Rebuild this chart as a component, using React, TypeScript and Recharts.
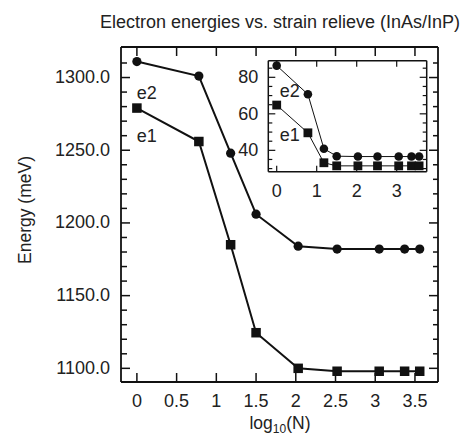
import React from 'react';
import { ComposedChart, Line, XAxis, YAxis, LabelList } from 'recharts';

const xValues = [0, 0.78, 1.18, 1.5, 2.03, 2.52, 3.05, 3.37, 3.56];
const e2Main = [1311, 1301, 1248, 1206, 1184, 1182, 1182, 1182, 1182];
const e1Main = [1279, 1256, 1185, 1124.5, 1100, 1098, 1098, 1098, 1098];
const e2Inset = [86.4, 70.7, 40.9, 36.8, 36.6, 36.6, 36.6, 36.6, 36.6];
const e1Inset = [64.8, 49.6, 33.2, 31.5, 31.5, 31.5, 31.5, 31.5, 31.5];
const seriesNames = ['e1', 'e2'];

const mainXTicks = [0, 0.5, 1, 1.5, 2, 2.5, 3, 3.5];
const mainYTicks = [1100, 1110, 1120, 1130, 1140, 1150, 1160, 1170, 1180, 1190, 1200, 1210, 1220, 1230, 1240, 1250, 1260, 1270, 1280, 1290, 1300, 1310];
const mainYLabels = [1100, 1150, 1200, 1250, 1300];
const insetXTicks = [0, 1, 2, 3];
const insetYTicks = [30, 35, 40, 45, 50, 55, 60, 65, 70, 75, 80, 85];
const insetYLabels = [40, 60, 80];

const titleText = 'Electron energies vs. strain relieve (InAs/InP)';
const yLabelText = 'Energy (meV)';

const mainData = xValues.map((x, i) => ({ x, e1: e1Main[i], e2: e2Main[i] }));
const insetData = xValues.map((x, i) => ({ x, e1: e1Inset[i], e2: e2Inset[i] }));

const FONT = '"Liberation Sans", Arial, Helvetica, sans-serif';
const INK = '#111';
const TXT = '#222';

type Side = 'left' | 'right' | 'top' | 'bottom';
interface TickOpts {
  side: Side;
  majors: number[];
  majorLen: number;
  minorLen: number;
  labels: boolean;
  fs: number;
  gap: number;
  base: number;
  fmt: (v: number) => string;
  sw: number;
}

const makeTick = (o: TickOpts) => (props: any) => {
  const { x, y, payload } = props;
  const v = payload.value;
  const isMajor = o.majors.some((m) => Math.abs(m - v) < 1e-6);
  const len = isMajor ? o.majorLen : o.minorLen;
  let x2 = x;
  let y2 = y;
  if (o.side === 'left') x2 = x + len;
  if (o.side === 'right') x2 = x - len;
  if (o.side === 'top') y2 = y + len;
  if (o.side === 'bottom') y2 = y - len;
  let label = null;
  if (o.labels && isMajor) {
    if (o.side === 'left') {
      label = (
        <text x={x - o.gap} y={y + o.base} textAnchor="end" fontSize={o.fs} fontFamily={FONT} fill={TXT}>
          {o.fmt(v)}
        </text>
      );
    } else if (o.side === 'bottom') {
      label = (
        <text x={x} y={y + o.base} textAnchor="middle" fontSize={o.fs} fontFamily={FONT} fill={TXT}>
          {o.fmt(v)}
        </text>
      );
    }
  }
  return (
    <g>
      <line x1={x} y1={y} x2={x2} y2={y2} stroke={INK} strokeWidth={o.sw} />
      {label}
    </g>
  );
};

const Circle = (r: number) => (p: any) => (
  <circle key={`c${p.index}`} cx={p.cx} cy={p.cy} r={r} fill={INK} stroke="none" />
);
const Square = (s: number) => (p: any) => (
  <rect key={`s${p.index}`} x={p.cx - s / 2} y={p.cy - s / 2} width={s} height={s} fill={INK} stroke="none" />
);

const firstLabel = (text: string, dx: number, dy: number, fs: number) => (p: any) => {
  if (p.index !== 0) return null;
  return (
    <text x={p.x + dx} y={p.y + dy} textAnchor="middle" fontSize={fs} fontFamily={FONT} fill={TXT}>
      {text}
    </text>
  );
};

const fmtMain = (v: number) => v.toFixed(1);
const fmtMainX = (v: number) => String(v);
const fmtInt = (v: number) => String(v);

export default function App() {
  const mainAxisLine = { stroke: INK, strokeWidth: 1.8 };
  const insetAxisLine = { stroke: INK, strokeWidth: 1.5 };
  const mainXDomain: [number, number] = [-0.2, 3.79];
  const mainYDomain: [number, number] = [1090.6, 1321];
  const insetXDomain: [number, number] = [-0.21, 3.75];
  const insetYDomain: [number, number] = [28.3, 89.1];

  return (
    <div style={{ position: 'absolute', left: 0, top: 0, width: 467, height: 438, background: '#fff' }}>
      <div style={{ position: 'absolute', left: 0, top: 0 }}>
        <ComposedChart width={467} height={438} data={mainData} margin={{ top: 0, right: 0, bottom: 0, left: 0 }}>
          <XAxis
            xAxisId="b"
            dataKey="x"
            type="number"
            orientation="bottom"
            domain={mainXDomain}
            allowDataOverflow
            ticks={mainXTicks}
            interval={0}
            height={56}
            tickSize={0}
            tickMargin={0}
            tickLine={false}
            axisLine={mainAxisLine}
            tick={makeTick({ side: 'bottom', majors: mainXTicks, majorLen: 9, minorLen: 5, labels: true, fs: 18, gap: 0, base: 25, fmt: fmtMainX, sw: 1.5 })}
          />
          <XAxis
            xAxisId="t"
            dataKey="x"
            type="number"
            orientation="top"
            domain={mainXDomain}
            allowDataOverflow
            ticks={mainXTicks}
            interval={0}
            height={47}
            tickSize={0}
            tickMargin={0}
            tickLine={false}
            axisLine={mainAxisLine}
            tick={makeTick({ side: 'top', majors: mainXTicks, majorLen: 9, minorLen: 5, labels: false, fs: 18, gap: 0, base: 0, fmt: fmtMainX, sw: 1.5 })}
          />
          <YAxis
            yAxisId="l"
            type="number"
            orientation="left"
            domain={mainYDomain}
            allowDataOverflow
            ticks={mainYTicks}
            interval={0}
            width={121}
            tickSize={0}
            tickMargin={0}
            tickLine={false}
            axisLine={mainAxisLine}
            tick={makeTick({ side: 'left', majors: mainYLabels, majorLen: 9, minorLen: 6, labels: true, fs: 18, gap: 11, base: 5.5, fmt: fmtMain, sw: 1.5 })}
          />
          <YAxis
            yAxisId="r"
            type="number"
            orientation="right"
            domain={mainYDomain}
            allowDataOverflow
            ticks={mainYTicks}
            interval={0}
            width={29}
            tickSize={0}
            tickMargin={0}
            tickLine={false}
            axisLine={mainAxisLine}
            tick={makeTick({ side: 'right', majors: mainYLabels, majorLen: 9, minorLen: 5, labels: false, fs: 18, gap: 0, base: 0, fmt: fmtMain, sw: 1.5 })}
          />
          <Line
            xAxisId="b"
            yAxisId="l"
            dataKey="e2"
            name={seriesNames[1]}
            type="linear"
            stroke={INK}
            strokeWidth={2}
            dot={Circle(4.6)}
            activeDot={false}
            isAnimationActive={false}
          >
            <LabelList dataKey="e2" content={firstLabel(seriesNames[1], 10, 37, 18)} />
          </Line>
          <Line
            xAxisId="b"
            yAxisId="l"
            dataKey="e1"
            name={seriesNames[0]}
            type="linear"
            stroke={INK}
            strokeWidth={2}
            dot={Square(9.5)}
            activeDot={false}
            isAnimationActive={false}
          >
            <LabelList dataKey="e1" content={firstLabel(seriesNames[0], 10, 34, 18)} />
          </Line>
        </ComposedChart>
      </div>

      <div style={{ position: 'absolute', left: 225, top: 55 }}>
        <ComposedChart width={215} height={150} data={insetData} margin={{ top: 0, right: 0, bottom: 0, left: 0 }}>
          <XAxis
            xAxisId="b"
            dataKey="x"
            type="number"
            orientation="bottom"
            domain={insetXDomain}
            allowDataOverflow
            ticks={insetXTicks}
            interval={0}
            height={33.3}
            tickSize={0}
            tickMargin={0}
            tickLine={false}
            axisLine={insetAxisLine}
            tick={makeTick({ side: 'bottom', majors: insetXTicks, majorLen: 6, minorLen: 4, labels: true, fs: 18, gap: 0, base: 25, fmt: fmtInt, sw: 1.2 })}
          />
          <XAxis
            xAxisId="t"
            dataKey="x"
            type="number"
            orientation="top"
            domain={insetXDomain}
            allowDataOverflow
            ticks={insetXTicks}
            interval={0}
            height={5.7}
            tickSize={0}
            tickMargin={0}
            tickLine={false}
            axisLine={insetAxisLine}
            tick={makeTick({ side: 'top', majors: insetXTicks, majorLen: 6, minorLen: 4, labels: false, fs: 18, gap: 0, base: 0, fmt: fmtInt, sw: 1.2 })}
          />
          <YAxis
            yAxisId="l"
            type="number"
            orientation="left"
            domain={insetYDomain}
            allowDataOverflow
            ticks={insetYTicks}
            interval={0}
            width={43.3}
            tickSize={0}
            tickMargin={0}
            tickLine={false}
            axisLine={insetAxisLine}
            tick={makeTick({ side: 'left', majors: insetYLabels, majorLen: 7, minorLen: 4, labels: true, fs: 18, gap: 10, base: 6, fmt: fmtInt, sw: 1.2 })}
          />
          <YAxis
            yAxisId="r"
            type="number"
            orientation="right"
            domain={insetYDomain}
            allowDataOverflow
            ticks={insetYTicks}
            interval={0}
            width={13.3}
            tickSize={0}
            tickMargin={0}
            tickLine={false}
            axisLine={insetAxisLine}
            tick={makeTick({ side: 'right', majors: insetYLabels, majorLen: 7, minorLen: 4, labels: false, fs: 18, gap: 0, base: 0, fmt: fmtInt, sw: 1.2 })}
          />
          <Line
            xAxisId="b"
            yAxisId="l"
            dataKey="e2"
            name={seriesNames[1]}
            type="linear"
            stroke={INK}
            strokeWidth={1}
            dot={Circle(4.3)}
            activeDot={false}
            isAnimationActive={false}
          >
            <LabelList dataKey="e2" content={firstLabel(seriesNames[1], 13, 31, 18)} />
          </Line>
          <Line
            xAxisId="b"
            yAxisId="l"
            dataKey="e1"
            name={seriesNames[0]}
            type="linear"
            stroke={INK}
            strokeWidth={1}
            dot={Square(8.8)}
            activeDot={false}
            isAnimationActive={false}
          >
            <LabelList dataKey="e1" content={firstLabel(seriesNames[0], 13, 36, 18)} />
          </Line>
        </ComposedChart>
      </div>

      <svg width={467} height={438} style={{ position: 'absolute', left: 0, top: 0, pointerEvents: 'none' }}>
        <text x={280} y={28} textAnchor="middle" fontSize={18} fontFamily={FONT} fill={TXT}>
          {titleText}
        </text>
        <text
          x={31}
          y={210}
          transform="rotate(-90 31 210)"
          textAnchor="middle"
          fontSize={17.5}
          fontFamily={FONT}
          fill={TXT}
        >
          {yLabelText}
        </text>
        <text x={280} y={429} textAnchor="middle" fontSize={17.5} fontFamily={FONT} fill={TXT}>
          log<tspan fontSize={12} dy={4}>10</tspan>
          <tspan dy={-4}>(N)</tspan>
        </text>
      </svg>
    </div>
  );
}
